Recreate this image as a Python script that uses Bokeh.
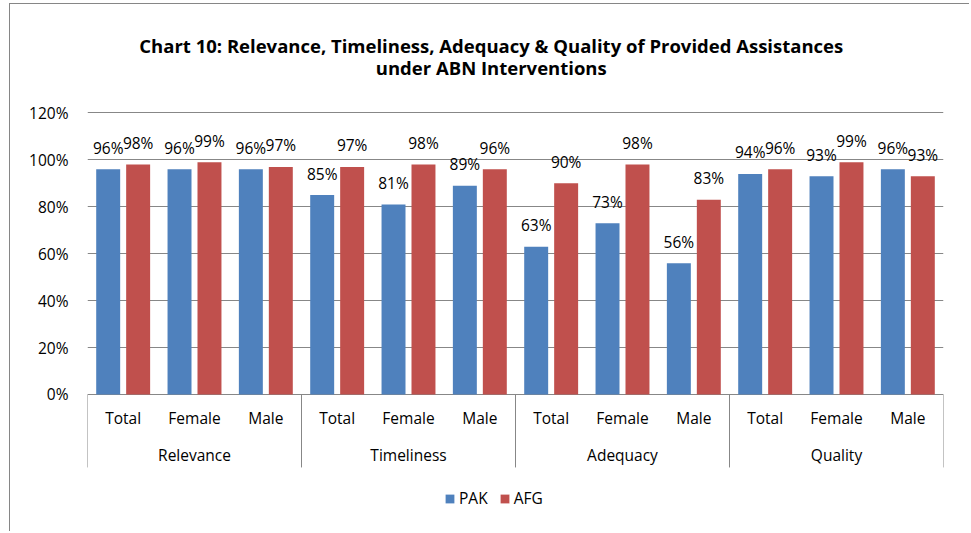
from bokeh.plotting import figure
from bokeh.models import Range1d, FixedTicker, PrintfTickFormatter, Legend, LegendItem
from bokeh.core.properties import value
from bokeh.embed import file_html
from bokeh.resources import INLINE

# ---- data ----
title_lines = ["Chart 10: Relevance, Timeliness, Adequacy & Quality of Provided Assistances",
               "under ABN Interventions"]
groups = ["Relevance", "Timeliness", "Adequacy", "Quality"]
subgroups = ["Total", "Female", "Male"]
series_names = ["PAK", "AFG"]
pak = [96, 96, 96, 85, 81, 89, 63, 73, 56, 94, 93, 96]
afg = [98, 99, 97, 97, 98, 96, 90, 98, 83, 96, 99, 93]
y_ticks = [0, 20, 40, 60, 80, 100, 120]

# ---- style ----
FONT = "Open Sans"
FS = "15.5px"
BLUE = "#4F81BD"
RED = "#C0504D"
GRID = "#878787"
TXT = "#000000"

n_sub = len(subgroups)
n = len(groups) * n_sub
centers = [i + 0.5 for i in range(n)]
sub_labels = [subgroups[i % n_sub] for i in range(n)]
group_centers = [g * n_sub + n_sub / 2 for g in range(len(groups))]
dividers = [g * n_sub for g in range(len(groups) + 1)]
BAR_W = 0.336
OFF = 0.21

p = figure(width=960, height=528, output_backend="svg", toolbar_location=None,
           x_range=Range1d(0, n), y_range=Range1d(-58.83, 166.25),
           x_axis_type=None,
           min_border_left=77, min_border_right=27, min_border_top=0, min_border_bottom=0)
p.styles = {"border-left": "1px solid #868686", "border-top": "1px solid #868686",
            "margin-left": "9px", "margin-top": "3px"}
p.outline_line_color = None
p.background_fill_color = "white"
p.border_fill_color = "white"

# y axis
ticker = FixedTicker(ticks=y_ticks)
p.yaxis.ticker = ticker
p.yaxis.formatter = PrintfTickFormatter(format="%d%%")
p.yaxis.axis_line_color = None
p.yaxis.major_tick_line_color = None
p.yaxis.minor_tick_line_color = None
p.yaxis.major_tick_out = 0
p.yaxis.major_tick_in = 0
p.yaxis.major_label_standoff = 19
p.yaxis.major_label_text_font = FONT
p.yaxis.major_label_text_font_size = FS
p.yaxis.major_label_text_color = TXT
p.xgrid.visible = False
p.ygrid.ticker = ticker
p.ygrid.grid_line_color = GRID
p.ygrid.grid_line_width = 1

# bars
x_pak = [c - OFF for c in centers]
x_afg = [c + OFF for c in centers]
r_pak = p.vbar(x=x_pak, top=pak, bottom=0, width=BAR_W, fill_color=BLUE, line_color=None)
r_afg = p.vbar(x=x_afg, top=afg, bottom=0, width=BAR_W, fill_color=RED, line_color=None)

# data labels
p.text(x=x_pak, y=pak, text=[f"{v}%" for v in pak], text_align="center",
       text_baseline="alphabetic", y_offset=-21.5, text_font=value(FONT),
       text_font_size=FS, text_color=TXT)
p.text(x=x_afg, y=afg, text=[f"{v}%" for v in afg], text_align="center",
       text_baseline="alphabetic", y_offset=-21.5, text_font=value(FONT),
       text_font_size=FS, text_color=TXT)

# category axis (two levels)
p.segment(x0=dividers, y0=[0] * len(dividers), x1=dividers, y1=[-31.1] * len(dividers),
          line_color=GRID, line_width=1)
p.text(x=centers, y=[-10.2] * n, text=sub_labels, text_align="center", text_baseline="middle",
       text_font=value(FONT), text_font_size=FS, text_color=TXT)
p.text(x=group_centers, y=[-26.0] * len(groups), text=groups, text_align="center",
       text_baseline="middle", text_font=value(FONT), text_font_size=FS, text_color=TXT)

# title
p.text(x=[5.66, 5.66], y=[148.6, 139.3], text=title_lines, text_align="center",
       text_baseline="middle", text_font=value(FONT), text_font_size="18.5px",
       text_font_style="bold", text_color=TXT)

# legend
legend = Legend(items=[LegendItem(label=series_names[0], renderers=[r_pak]),
                       LegendItem(label=series_names[1], renderers=[r_afg])],
                orientation="horizontal", location=(357, 23),
                border_line_color=None, background_fill_alpha=0,
                padding=0, margin=0, spacing=11, label_standoff=4,
                glyph_width=11, glyph_height=11, label_height=18,
                label_text_font=FONT, label_text_font_size=FS, label_text_color=TXT)
p.add_layout(legend)

open("out.html", "w").write(file_html(p, INLINE))
